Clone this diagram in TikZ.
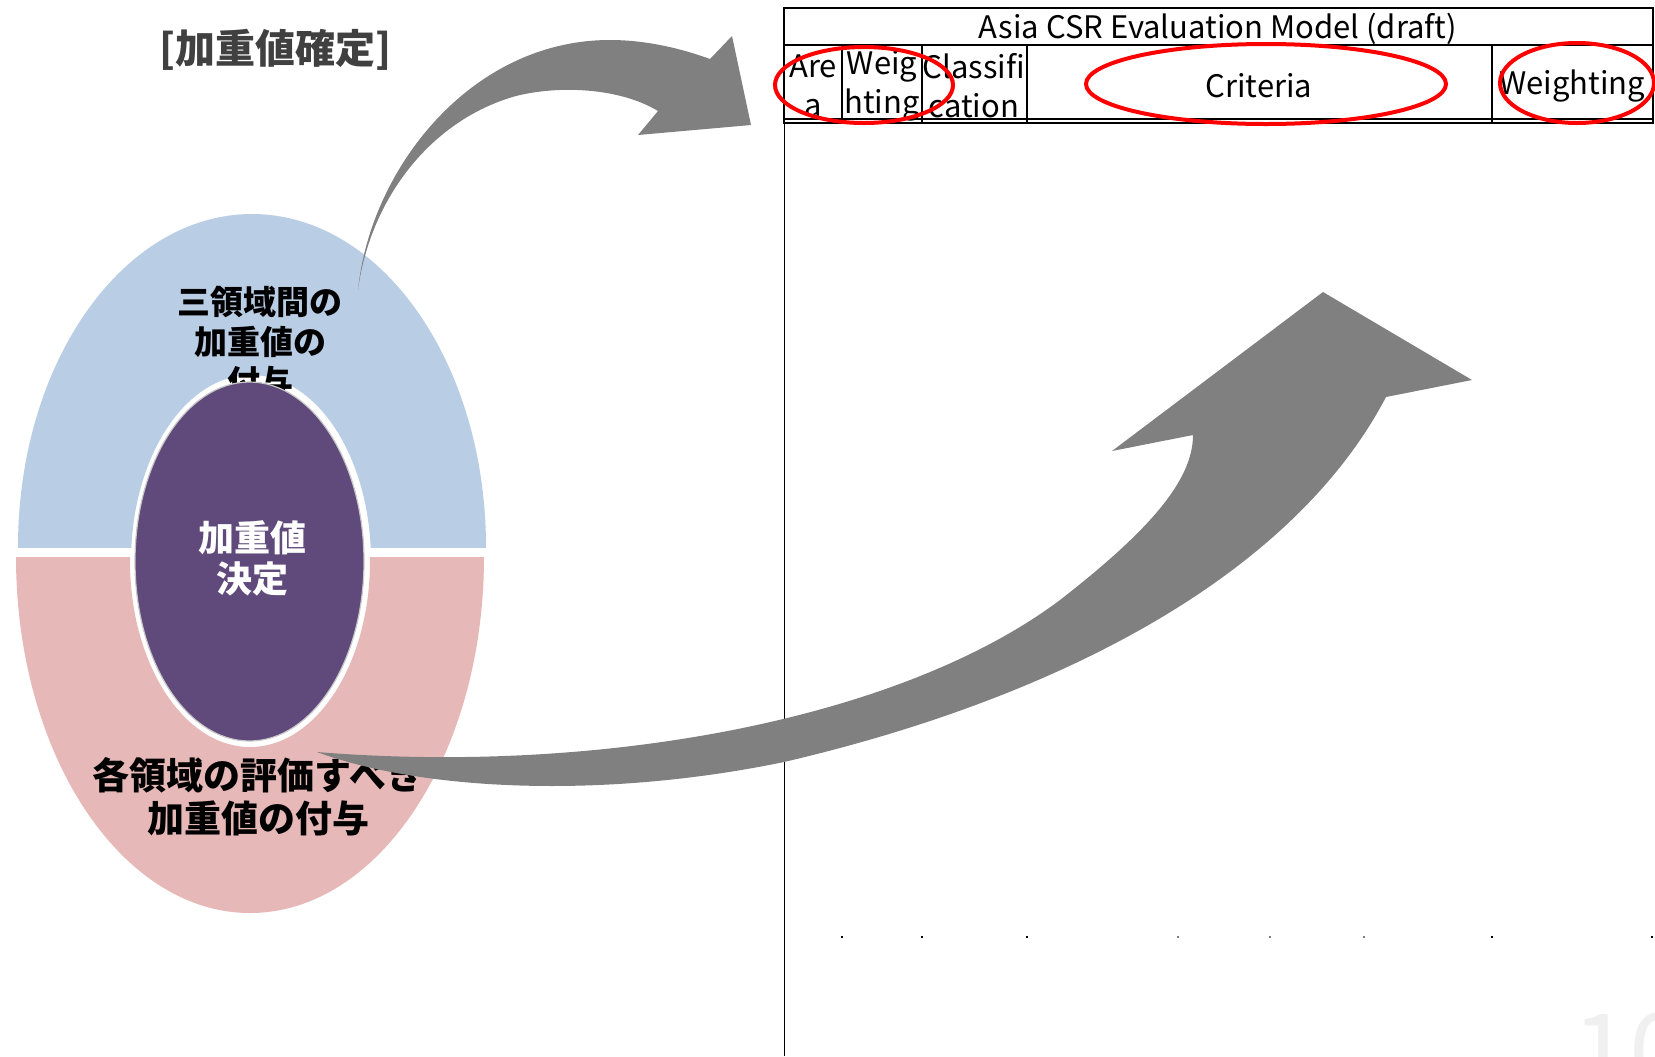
\documentclass[tikz,border=0pt]{standalone}
\usepackage{fontspec}
\setmainfont{Noto Sans CJK JP}
\usetikzlibrary{positioning}
\definecolor{ringblue}{HTML}{B9CDE5}
\definecolor{ringpink}{HTML}{E6B9B8}
\definecolor{corepurple}{HTML}{604A7B}
\definecolor{arrowgray}{HTML}{808080}
\definecolor{titlegray}{HTML}{404040}
\tikzset{
  jplabel/.style={font=\bfseries\fontsize{16.5}{20}\selectfont, align=center, inner sep=0},
  hdr/.style={font=\fontsize{15.5}{19.5}\selectfont, align=center, inner sep=0},
  redring/.style={draw=red, line width=2pt},
  bigarrow/.style={fill=arrowgray},
  tablerule/.style={line width=1pt}
}
\begin{document}
\begin{tikzpicture}[x=0.5pt,y=-0.5pt]
        \useasboundingbox (0,0) rectangle (1655,1056);

        \node[font=\bfseries\fontsize{20}{24}\selectfont, text=titlegray] (title) at (275,50) {[加重値確定]};

        % ring, upper and lower half
        \begin{scope}
            \clip (0,0) rectangle (520,547);
            \fill[ringblue,even odd rule] (252,547) ellipse [x radius=234, y radius=333]
                (251,561) ellipse [x radius=120, y radius=186];
        \end{scope}
        \begin{scope}
            \clip (0,557) rectangle (520,1056);
            \fill[ringpink,even odd rule] (250,557) ellipse [x radius=234, y radius=356]
                (250,561) ellipse [x radius=120, y radius=186];
        \end{scope}

        \node[jplabel] (upper) at (260,342) {三領域間の\\加重値の\\付与};

        \draw[fill=corepurple, draw=gray!45, line width=0.6pt] (249.5,561.5) ellipse [x radius=114.5, y radius=179.5];
        \node[jplabel, text=white, font=\bfseries\fontsize{18}{20.5}\selectfont] (core) at (252,558) {加重値\\決定};

        \node[jplabel, font=\bfseries\fontsize{18.5}{21.5}\selectfont] (lower) at (258,797) {各領域の評価すべき\\加重値の付与};

        % table
        \draw[tablerule] (784,8) rectangle (1653,123);
        \draw[tablerule] (784,45) -- (1653,45);
        \foreach \x in {842,922,1027,1492}
            \draw[tablerule] (\x,45) -- (\x,124);
        \draw[line width=0.6pt] (784,119) -- (1653,119);
        \draw[line width=0.5pt] (784,8) -- (784,1056);
        \foreach \x in {842,922,1027,1492,1652}
            \fill (\x-1,936) rectangle (\x+1,938);
        \foreach \x in {1178,1270,1364}
            \fill[gray] (\x-1,936) rectangle (\x+1,938);

        \node[hdr] (model) at (1218,29) {Asia CSR Evaluation Model (draft)};
        \node[hdr] (area) at (813,86) {Are\\a};
        \node[hdr] (wgt) at (882,86) {Weig\\hting};
        \node[hdr] (cls) at (974,86) {Classifi\\cation};
        \node[hdr] (crit) at (1259,86) {Criteria};
        \node[hdr] (weighting) at (1572,86) {Weighting};

        \draw[redring] (864,85) ellipse [x radius=89, y radius=38];
        \draw[redring] (1266,84) ellipse [x radius=180, y radius=40];
        \draw[redring] (1577,83) ellipse [x radius=77, y radius=40];

        % arrows
        \fill[bigarrow] (358,290) .. controls (370,170) and (470,40) .. (610,40)
            .. controls (645,40) and (680,48) .. (710,59) -- (732,36) -- (751,125) -- (638,135) -- (658,111)
            .. controls (620,88) and (560,85) .. (516,96) .. controls (430,120) and (370,200) .. cycle;
        \fill[bigarrow] (317,752) .. controls (600,775) and (900,720) .. (1060,600)
            .. controls (1150,530) and (1193,480) .. (1193,435) -- (1112,451) -- (1323,292) -- (1472,380) -- (1386,397)
            .. controls (1290,580) and (1050,700) .. (784,762) .. controls (600,800) and (420,790) .. cycle;

        \node[anchor=base west, text=gray!12, font=\fontsize{52}{60}\selectfont] (pagenum) at (1565,1088) {10};
    \end{tikzpicture}
\end{document}
